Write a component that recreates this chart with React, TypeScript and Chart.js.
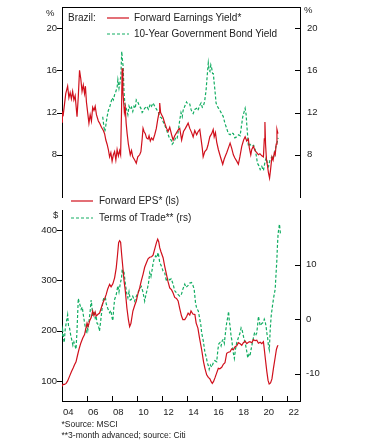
import React, { useEffect, useRef } from "react";
import Chart from "chart.js/auto";

const FONT = "'Liberation Sans', Arial, sans-serif";
const RED = "#d0101c";
const GREEN = "#12ad62";
const INK = "#222";

// ---------- Top panel: Forward Earnings Yield (%) ----------
const eyYears = [
  2004.0, 2004.03, 2004.1, 2004.2, 2004.3, 2004.45, 2004.55, 2004.65, 2004.75, 2004.85, 2004.95,
  2005.05, 2005.2, 2005.3, 2005.4, 2005.5, 2005.6, 2005.7, 2005.8, 2005.87, 2005.95,
  2006.05, 2006.15, 2006.25, 2006.35, 2006.45, 2006.55, 2006.65, 2006.75, 2006.9,
  2007.0, 2007.15, 2007.3, 2007.4, 2007.5, 2007.6, 2007.7, 2007.8, 2007.9,
  2008.0, 2008.1, 2008.2, 2008.3, 2008.4, 2008.5, 2008.6, 2008.68, 2008.75, 2008.8, 2008.86, 2008.92, 2008.98,
  2009.05, 2009.12, 2009.2, 2009.3, 2009.45, 2009.55, 2009.65, 2009.8, 2009.93,
  2010.05, 2010.2, 2010.3, 2010.4, 2010.47, 2010.55, 2010.65, 2010.75, 2010.87, 2010.95,
  2011.05, 2011.15, 2011.27, 2011.4, 2011.53, 2011.65, 2011.75, 2011.8, 2011.87, 2011.95,
  2012.07, 2012.2, 2012.35, 2012.47, 2012.6, 2012.75, 2012.87,
  2013.0, 2013.15, 2013.3, 2013.4, 2013.55, 2013.7, 2013.85,
  2014.07, 2014.2, 2014.35, 2014.47, 2014.6, 2014.75, 2014.87,
  2015.0, 2015.1, 2015.2, 2015.27, 2015.4, 2015.55, 2015.65, 2015.8, 2015.95,
  2016.07, 2016.15, 2016.25, 2016.35, 2016.48, 2016.6, 2016.7, 2016.83, 2016.95,
  2017.05, 2017.15, 2017.3, 2017.42, 2017.55, 2017.68, 2017.8, 2017.95,
  2018.08, 2018.2, 2018.35, 2018.5, 2018.62, 2018.75, 2018.88, 2018.95,
  2019.07, 2019.15, 2019.28, 2019.4, 2019.55, 2019.68, 2019.8, 2019.95,
  2020.08, 2020.15, 2020.2, 2020.25, 2020.32, 2020.4, 2020.48, 2020.57, 2020.65, 2020.76, 2020.85, 2020.95,
  2021.02, 2021.1, 2021.16, 2021.24,
];
const eyValues = [
  11.1, 12.0, 11.8, 12.8, 13.8, 14.5, 13.4, 13.9, 13.3, 14.0, 13.2,
  13.6, 11.6, 13.5, 16.0, 15.2, 14.0, 14.6, 13.8, 14.5, 13.0,
  12.0, 11.0, 11.8, 11.2, 12.5, 12.2, 12.6, 11.8, 11.2,
  11.0, 10.6, 10.3, 10.0, 9.4, 9.0, 8.5, 7.8, 8.2,
  7.4, 8.0, 8.3, 7.5, 8.5, 7.9, 8.4, 8.0, 12.0, 16.2, 14.0, 13.0, 12.0,
  12.5, 11.0, 10.0, 9.0, 8.0, 8.4, 7.8, 7.5, 7.2,
  7.8, 8.0, 8.3, 9.5, 10.5, 10.2, 10.0, 9.6, 9.5, 9.8,
  9.3, 9.6, 9.4, 9.9, 10.5, 11.4, 12.0, 12.9, 12.0, 11.8,
  11.5, 11.0, 10.5, 10.2, 10.6, 9.9, 9.4,
  9.8, 10.1, 10.4, 10.5, 9.4, 10.2, 10.5,
  11.0, 10.5, 10.1, 9.7, 10.3, 9.9, 10.2,
  10.4, 9.5, 8.6, 7.8, 8.3, 8.5, 8.9, 9.7, 10.0,
  10.4, 9.7, 10.1, 9.2, 8.5, 8.0, 7.6, 7.1, 7.6,
  7.9, 8.2, 8.7, 9.1, 8.6, 8.0, 7.7, 7.4,
  7.1, 7.8, 8.8, 9.4, 9.7, 9.3, 9.5, 8.7,
  8.0, 8.5, 8.8, 8.4, 8.2, 8.0, 8.1, 7.9,
  7.8, 9.5, 11.1, 9.0, 7.6, 7.0, 6.3, 5.8, 6.6, 7.8, 7.5, 8.2,
  8.0, 9.0, 10.4, 10.0,
];

// ---------- Top panel: 10-Year Government Bond Yield (%) ----------
const bondYears = [
  2007.25, 2007.35, 2007.42, 2007.5, 2007.6, 2007.7, 2007.8, 2007.9,
  2008.0, 2008.1, 2008.2, 2008.3, 2008.4, 2008.46, 2008.55, 2008.62, 2008.7, 2008.77, 2008.82, 2008.88, 2008.95,
  2009.02, 2009.1, 2009.18, 2009.26, 2009.35, 2009.45, 2009.55, 2009.65, 2009.75, 2009.85, 2009.93,
  2010.05, 2010.15, 2010.3, 2010.4, 2010.47, 2010.6, 2010.75, 2010.9,
  2011.05, 2011.15, 2011.27, 2011.4, 2011.55, 2011.7, 2011.8, 2011.94,
  2012.05, 2012.2, 2012.34, 2012.45, 2012.6, 2012.72, 2012.8, 2012.87,
  2013.0, 2013.1, 2013.2, 2013.3, 2013.4, 2013.5, 2013.6, 2013.67, 2013.8, 2013.94,
  2014.05, 2014.2, 2014.3, 2014.4, 2014.47, 2014.6, 2014.74, 2014.85,
  2015.0, 2015.1, 2015.2, 2015.27, 2015.38, 2015.5, 2015.6, 2015.68, 2015.75, 2015.81, 2015.88, 2015.95,
  2016.02, 2016.08, 2016.15, 2016.21, 2016.3, 2016.4, 2016.5, 2016.6, 2016.75, 2016.88,
  2017.0, 2017.15, 2017.28, 2017.42, 2017.55, 2017.68, 2017.8, 2017.95,
  2018.1, 2018.22, 2018.3, 2018.43, 2018.52, 2018.62, 2018.7, 2018.76, 2018.82, 2018.88,
  2019.0, 2019.15, 2019.3, 2019.42, 2019.5, 2019.6, 2019.7, 2019.82, 2019.95,
  2020.08, 2020.2, 2020.3, 2020.4, 2020.49, 2020.6, 2020.76, 2020.85, 2020.94,
  2021.08, 2021.2, 2021.25,
];
const bondValues = [
  11.6, 10.6, 10.2, 10.8, 11.6, 12.2, 12.5, 12.9,
  13.4, 13.2, 13.7, 14.0, 14.4, 15.1, 14.3, 14.8, 15.5, 17.8, 17.0, 16.4, 14.0,
  12.8, 12.5, 12.2, 11.8, 12.6, 12.3, 12.5, 12.1, 12.6, 12.4, 13.2,
  13.0, 12.7, 12.4, 12.0, 12.1, 12.4, 12.6, 12.3,
  12.8, 12.6, 12.9, 12.6, 12.3, 12.0, 11.6, 11.5,
  11.2, 10.8, 10.4, 10.0, 9.5, 9.4, 9.0, 9.1,
  9.4, 9.7, 9.6, 10.4, 11.3, 12.0, 11.6, 12.2, 12.6, 13.0,
  12.8, 12.8, 12.3, 12.0, 11.9, 12.3, 12.4, 12.2,
  12.7, 12.9, 12.5, 12.6, 13.0, 14.1, 15.6, 16.7, 16.0, 15.9, 16.5, 16.2,
  15.7, 15.7, 14.8, 14.1, 12.9, 12.6, 12.4, 12.2, 11.9, 11.6,
  11.0, 10.5, 10.0, 9.9, 10.1, 10.0, 9.6, 9.7,
  9.9, 9.8, 10.5, 11.6, 12.0, 12.4, 11.8, 10.7, 9.8, 8.8,
  9.0, 8.8, 8.9, 8.5, 8.0, 7.2, 7.0, 6.6, 6.9,
  6.5, 7.3, 7.7, 7.2, 6.9, 7.5, 7.8, 7.6, 8.0,
  8.8, 9.3, 9.6,
];

// ---------- Bottom panel: Forward EPS ($, left scale) ----------
const epsYears = [
  2004.0, 2004.08, 2004.2, 2004.33, 2004.45, 2004.6, 2004.75, 2004.9,
  2005.0, 2005.12, 2005.25, 2005.38, 2005.5, 2005.65, 2005.8, 2005.92,
  2006.0, 2006.08, 2006.2, 2006.33, 2006.45, 2006.55, 2006.65, 2006.73, 2006.85,
  2007.0, 2007.12, 2007.26, 2007.4, 2007.53, 2007.65, 2007.8, 2007.92,
  2008.06, 2008.2, 2008.33, 2008.43, 2008.52, 2008.6, 2008.68, 2008.76, 2008.86, 2008.95,
  2009.05, 2009.18, 2009.3, 2009.4, 2009.5, 2009.66, 2009.8, 2009.93,
  2010.05, 2010.2, 2010.33, 2010.47, 2010.6, 2010.74, 2010.87,
  2011.0, 2011.15, 2011.27, 2011.4, 2011.54, 2011.64, 2011.72, 2011.8, 2011.9,
  2012.07, 2012.2, 2012.34, 2012.47, 2012.6, 2012.75, 2012.87,
  2013.0, 2013.14, 2013.27, 2013.4, 2013.54, 2013.65, 2013.8, 2013.95,
  2014.07, 2014.2, 2014.3, 2014.45, 2014.61, 2014.71, 2014.85, 2014.98,
  2015.15, 2015.3, 2015.41, 2015.55, 2015.68, 2015.81, 2015.92,
  2016.0, 2016.1, 2016.21, 2016.35, 2016.48, 2016.6, 2016.75, 2016.88,
  2017.01, 2017.15, 2017.28, 2017.42, 2017.55, 2017.68, 2017.82, 2017.95,
  2018.08, 2018.22, 2018.35, 2018.48, 2018.62, 2018.75, 2018.88,
  2019.0, 2019.15, 2019.28, 2019.42, 2019.55, 2019.68, 2019.82, 2019.95,
  2020.08, 2020.15, 2020.22, 2020.35, 2020.45, 2020.54, 2020.65, 2020.76, 2020.88,
  2021.02, 2021.12, 2021.2, 2021.25,
];
const epsValues = [
  89, 93, 93, 95, 100, 109, 118, 126,
  132, 138, 152, 165, 175, 185, 192, 206,
  215, 208, 219, 226, 239, 230, 237, 229, 232,
  235, 244, 255, 263, 272, 283, 292, 287,
  293, 305, 325, 350, 375, 379, 376, 352, 325, 300,
  280, 245, 222, 208, 214, 239, 250, 259,
  272, 285, 299, 312, 326, 335, 343,
  346, 347, 350, 362, 375, 382, 377, 365, 357,
  345, 328, 312, 297, 285, 281, 275,
  266, 264, 259, 244, 229, 222, 222, 228,
  235, 231, 239, 233, 232, 215, 205, 185,
  162, 138, 125, 112, 107, 104, 98,
  95, 99, 106, 116, 125, 124, 127, 133,
  136, 155, 157, 158, 164, 162, 168, 170,
  176, 174, 171, 176, 179, 174, 177,
  178, 176, 182, 180, 181, 175, 177, 174,
  178, 163, 147, 119, 101, 94, 96, 104, 125,
  147, 163, 169, 171,
];

// ---------- Bottom panel: Terms of Trade (right scale, 3-month advanced) ----------
const totYears = [
  2004.0, 2004.05, 2004.12, 2004.18, 2004.25, 2004.35, 2004.45, 2004.52, 2004.6, 2004.7, 2004.8, 2004.87, 2004.95,
  2005.05, 2005.12, 2005.2, 2005.3, 2005.38, 2005.45, 2005.53, 2005.62, 2005.7, 2005.79, 2005.86, 2005.92,
  2006.0, 2006.06, 2006.15, 2006.25, 2006.33, 2006.4, 2006.46, 2006.55, 2006.65, 2006.72, 2006.8, 2006.9, 2006.99,
  2007.08, 2007.18, 2007.26, 2007.35, 2007.47, 2007.53, 2007.65, 2007.8, 2007.9,
  2008.0, 2008.06, 2008.13, 2008.2, 2008.33, 2008.46, 2008.55, 2008.65, 2008.75, 2008.81, 2008.88, 2008.94,
  2009.02, 2009.08, 2009.18, 2009.26, 2009.35, 2009.45, 2009.53, 2009.65, 2009.8, 2009.9,
  2010.06, 2010.2, 2010.33, 2010.46, 2010.6, 2010.7, 2010.81, 2010.9,
  2011.0, 2011.1, 2011.19, 2011.27, 2011.35, 2011.48, 2011.58, 2011.67, 2011.73, 2011.8, 2011.94,
  2012.07, 2012.2, 2012.34, 2012.45, 2012.6, 2012.72, 2012.87,
  2013.0, 2013.14, 2013.27, 2013.4, 2013.54, 2013.65, 2013.8, 2013.9,
  2014.07, 2014.2, 2014.34, 2014.45, 2014.55, 2014.66, 2014.75, 2014.88,
  2015.0, 2015.08, 2015.15, 2015.28, 2015.41, 2015.52, 2015.6, 2015.68, 2015.75, 2015.85, 2015.95,
  2016.08, 2016.2, 2016.35, 2016.45, 2016.52, 2016.61, 2016.7, 2016.8, 2016.88, 2016.96,
  2017.05, 2017.15, 2017.22, 2017.3, 2017.36, 2017.42, 2017.5, 2017.55, 2017.66, 2017.76, 2017.85, 2017.95,
  2018.08, 2018.22, 2018.3, 2018.38, 2018.5, 2018.62, 2018.72, 2018.83, 2018.92,
  2019.0, 2019.1, 2019.2, 2019.36, 2019.46, 2019.55, 2019.62, 2019.68, 2019.75, 2019.82, 2019.95,
  2020.08, 2020.15, 2020.22, 2020.3, 2020.35, 2020.42, 2020.48, 2020.55, 2020.62, 2020.7, 2020.8, 2020.9,
  2021.02, 2021.08, 2021.15, 2021.2, 2021.25, 2021.32, 2021.36, 2021.41, 2021.44,
];
const totValues = [
  -3.1, -2.0, -3.5, -4.3, -2.0, -0.5, 0.8, -1.2, -1.6, -3.0, -4.0, -4.8, -4.2,
  -5.0, -5.5, -2.0, 3.8, 3.0, 2.5, 1.8, 2.2, 0.8, -0.5, -1.5, -2.6,
  -1.2, -2.0, -0.5, 1.5, 3.5, 2.0, 0.5, 1.5, 0.2, 0.6, -0.8, -1.0, -2.2,
  -0.5, 1.5, 3.2, 4.0, 3.9, 2.8, 2.0, 1.2, 1.6,
  0.2, -0.3, 2.0, 3.6, 4.5, 6.1, 5.0, 6.5, 7.5, 9.2, 8.5, 8.8,
  7.2, 6.1, 4.5, 3.9, 5.0, 3.5, 3.6, 4.2, 3.3, 4.0,
  4.9, 5.5, 6.0, 5.0, 3.3, 4.5, 5.5, 6.5,
  8.5, 7.8, 9.0, 10.2, 11.0, 11.6, 11.3, 12.2, 11.5, 10.4, 9.7,
  8.8, 8.5, 6.9, 7.6, 7.2, 7.4, 6.4,
  5.2, 4.8, 4.5, 4.2, 4.6, 5.5, 6.4, 5.8,
  6.2, 6.6, 6.7, 6.2, 5.5, 3.0, 2.0, 1.5,
  0.0, -1.0, -2.5, -4.0, -6.1, -7.0, -8.0, -8.5, -9.2, -8.4, -8.8,
  -8.0, -7.6, -7.8, -5.5, -4.5, -4.3, -4.9, -3.9, -3.7, -4.4,
  -2.5, -0.6, 0.2, 1.4, -0.5, -1.2, -3.2, -3.7, -6.0, -7.2, -5.5, -4.3,
  -3.4, -2.5, -1.6, -2.0, -3.3, -4.3, -5.5, -7.1, -6.5,
  -6.8, -5.5, -4.3, -2.6, -3.0, -2.5, -1.0, 0.5, -0.3, -1.2, -0.8,
  -0.6, 0.0, -0.4, -1.5, -2.5, -3.5, -4.9, -5.6, -2.0, 0.6, 2.4, 4.0,
  5.5, 8.0, 10.7, 13.5, 15.6, 16.8, 17.4, 16.3, 15.6,
];

// ---------- Axes ----------
const topTicks = [8, 12, 16, 20];
const epsTicks = [100, 200, 300, 400];
const totTicks = [-10, 0, 10];
const xTickYears = [2004, 2006, 2008, 2010, 2012, 2014, 2016, 2018, 2020, 2022];
const xLabelYears = [2004.5, 2006.5, 2008.5, 2010.5, 2012.5, 2014.5, 2016.5, 2018.5, 2020.5, 2022.5];
const xLabels = ["04", "06", "08", "10", "12", "14", "16", "18", "20", "22"];

const pts = (xs: number[], ys: number[]) => xs.map((x, i) => ({ x, y: ys[i] }));

type TickSpec = { id: string; values: number[]; side: "left" | "right" | "bottom" };

function framePlugin(specs: TickSpec[], topBorder: boolean) {
  return {
    id: "frameTicks",
    afterDraw(chart: any) {
      const ctx = chart.ctx;
      const a = chart.chartArea;
      ctx.save();
      ctx.strokeStyle = "#000";
      ctx.lineWidth = 1;
      ctx.beginPath();
      for (const s of specs) {
        const sc = chart.scales[s.id];
        for (const v of s.values) {
          const p = Math.round(sc.getPixelForValue(v)) + 0.5;
          if (s.side === "left") {
            ctx.moveTo(a.left - 5, p);
            ctx.lineTo(a.left, p);
          } else if (s.side === "right") {
            ctx.moveTo(a.right - 5, p);
            ctx.lineTo(a.right, p);
          } else {
            ctx.moveTo(p, a.bottom - 5);
            ctx.lineTo(p, a.bottom);
          }
        }
      }
      if (topBorder) {
        const t = Math.round(a.top) + 0.5;
        ctx.moveTo(Math.round(a.left), t);
        ctx.lineTo(Math.round(a.right) + 1, t);
      }
      ctx.stroke();
      ctx.restore();
    },
  };
}

const tickFont = { family: FONT, size: 9.5 };

function yAxis(position: "left" | "right", min: number, max: number, ticks: number[], width: number, pad: number) {
  return {
    type: "linear",
    position,
    min,
    max,
    grid: { display: false, drawTicks: false, tickLength: 0 },
    border: { display: true, color: "#000", width: 1 },
    ticks: {
      font: tickFont,
      color: INK,
      padding: pad,
      autoSkip: false,
      callback: (v: number) => String(v),
    },
    afterBuildTicks: (scale: any) => {
      scale.ticks = ticks.map((v) => ({ value: v }));
    },
    afterFit: (scale: any) => {
      scale.width = width;
      scale.paddingTop = 0;
      scale.paddingBottom = 0;
    },
  };
}

function lineDs(label: string, data: any[], color: string, dashed: boolean, axis: string, order: number) {
  return {
    label,
    data,
    borderColor: color,
    backgroundColor: color,
    borderWidth: 1.2,
    borderDash: dashed ? [3, 2] : [],
    pointRadius: 0,
    tension: 0,
    fill: false,
    yAxisID: axis,
    order,
  };
}

function Txt({ s, left, cy, size }: { s: string; left: number; cy: number; size: number }) {
  return (
    <div
      style={{
        position: "absolute",
        left,
        top: cy - 7,
        lineHeight: "14px",
        height: 14,
        fontSize: size,
        fontFamily: FONT,
        color: INK,
        whiteSpace: "nowrap",
      }}
    >
      {s}
    </div>
  );
}

function Swatch({ x1, x2, cy, color, dashed }: { x1: number; x2: number; cy: number; color: string; dashed: boolean }) {
  return (
    <svg style={{ position: "absolute", left: x1, top: cy - 2 }} width={x2 - x1} height={4}>
      <line x1={0} y1={2} x2={x2 - x1} y2={2} stroke={color} strokeWidth={1.2} strokeDasharray={dashed ? "3,2" : undefined} />
    </svg>
  );
}

export default function App() {
  const topRef = useRef<HTMLCanvasElement | null>(null);
  const botRef = useRef<HTMLCanvasElement | null>(null);

  useEffect(() => {
    const top = new Chart(topRef.current as HTMLCanvasElement, {
      type: "line",
      data: {
        datasets: [
          lineDs("Forward Earnings Yield*", pts(eyYears, eyValues), RED, false, "y", 0),
          lineDs("10-Year Government Bond Yield", pts(bondYears, bondValues), GREEN, true, "y", 1),
        ],
      },
      options: {
        animation: false,
        responsive: false,
        maintainAspectRatio: false,
        devicePixelRatio: 1,
        layout: { padding: { top: 7, bottom: 3, left: 0, right: 0 } },
        plugins: { legend: { display: false }, tooltip: { enabled: false } },
        scales: {
          x: { type: "linear", display: false, min: 2004, max: 2023 },
          y: yAxis("left", 4, 22, topTicks, 62, 5),
          y2: yAxis("right", 4, 22, topTicks, 66, 7),
        },
      } as any,
      plugins: [
        framePlugin(
          [
            { id: "y", values: topTicks, side: "left" },
            { id: "y2", values: topTicks, side: "right" },
          ],
          true
        ),
      ],
    } as any);

    const bot = new Chart(botRef.current as HTMLCanvasElement, {
      type: "line",
      data: {
        datasets: [
          lineDs("Forward EPS* (ls)", pts(epsYears, epsValues), RED, false, "yL", 0),
          lineDs("Terms of Trade** (rs)", pts(totYears, totValues), GREEN, true, "yR", 1),
        ],
      },
      options: {
        animation: false,
        responsive: false,
        maintainAspectRatio: false,
        devicePixelRatio: 1,
        layout: { padding: { top: 10, bottom: 0, left: 0, right: 0 } },
        plugins: { legend: { display: false }, tooltip: { enabled: false } },
        scales: {
          x: {
            type: "linear",
            position: "bottom",
            min: 2004,
            max: 2023,
            grid: { display: false, drawTicks: false, tickLength: 0 },
            border: { display: true, color: "#000", width: 1 },
            ticks: {
              font: tickFont,
              color: INK,
              padding: 6,
              autoSkip: false,
              maxRotation: 0,
              callback: (_v: number, i: number) => xLabels[i],
            },
            afterBuildTicks: (scale: any) => {
              scale.ticks = xLabelYears.map((v) => ({ value: v }));
            },
            afterFit: (scale: any) => {
              scale.height = 21;
              scale.paddingLeft = 0;
              scale.paddingRight = 0;
            },
          },
          yL: yAxis("left", 60, 440, epsTicks, 62, 5),
          yR: yAxis("right", -15, 20, totTicks, 66, 6),
        },
      } as any,
      plugins: [
        framePlugin(
          [
            { id: "yL", values: epsTicks, side: "left" },
            { id: "yR", values: totTicks, side: "right" },
            { id: "x", values: xTickYears, side: "bottom" },
          ],
          false
        ),
      ],
    } as any);

    return () => {
      top.destroy();
      bot.destroy();
    };
  }, []);

  return (
    <div style={{ position: "absolute", left: 0, top: 0, width: 366, height: 447, background: "#fff", overflow: "hidden" }}>
      <canvas ref={topRef} width={366} height={200} style={{ position: "absolute", left: 0, top: 0, width: 366, height: 200 }} />
      <canvas ref={botRef} width={366} height={222} style={{ position: "absolute", left: 0, top: 200, width: 366, height: 222 }} />

      {/* unit labels */}
      <Txt s="%" left={46} cy={12.5} size={9.5} />
      <Txt s="%" left={304} cy={10} size={9.5} />
      <Txt s="$" left={53} cy={214.5} size={9.5} />

      {/* top legend */}
      <Txt s="Brazil:" left={68} cy={18.3} size={10} />
      <Swatch x1={107} x2={129} cy={18.3} color={RED} dashed={false} />
      <Txt s="Forward Earnings Yield*" left={134} cy={18.3} size={10} />
      <Swatch x1={107} x2={129} cy={33.5} color={GREEN} dashed={true} />
      <Txt s="10-Year Government Bond Yield" left={134} cy={33.5} size={10} />

      {/* bottom legend */}
      <Swatch x1={71} x2={93} cy={201} color={RED} dashed={false} />
      <Txt s="Forward EPS* (ls)" left={99} cy={201} size={10} />
      <Swatch x1={71} x2={93} cy={217.7} color={GREEN} dashed={true} />
      <Txt s="Terms of Trade** (rs)" left={99} cy={217.7} size={10} />

      {/* footnotes */}
      <Txt s="*Source: MSCI" left={61.5} cy={424} size={8.5} />
      <Txt s="**3-month advanced; source: Citi" left={61.5} cy={435} size={8.5} />
    </div>
  );
}
